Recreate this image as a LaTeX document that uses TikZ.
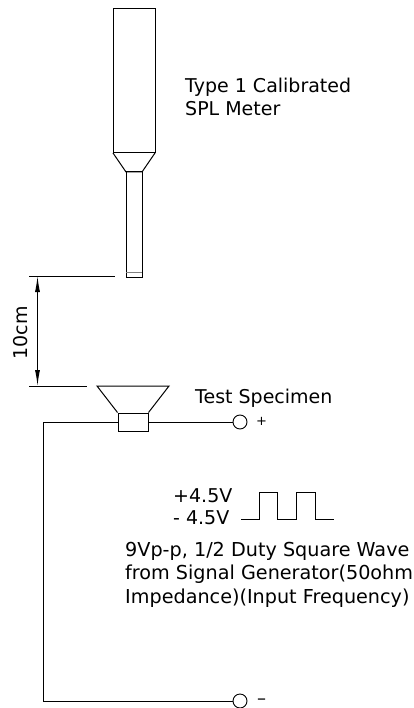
\documentclass[tikz,border=0pt]{standalone}
\usepackage{fontspec}
\setmainfont{DejaVu Sans}
\usetikzlibrary{arrows.meta}
\tikzset{
  wire/.style={line width=1pt},
  terminal/.style={circle,draw,line width=0.9pt,inner sep=0pt,minimum size=14pt,fill=white},
  label/.style={anchor=base west,inner sep=0pt,font=\fontsize{19}{22}\selectfont},
  notelabel/.style={label,font=\fontsize{19.2}{22}\selectfont},
  dimarrow/.style={line width=1pt,{Latex[length=16pt,width=5pt]}-{Latex[length=16pt,width=5pt]}}
}
\begin{document}
\begin{tikzpicture}[x=1pt,y=-1pt]
        \useasboundingbox (0,0) rectangle (414,708);
        %% meter
        \draw[wire] (113,9) rectangle (155,153);
        \draw[wire] (113,153) -- (126,172) -- (142,172) -- (155,153);
        \draw[wire] (126,172) rectangle (142,277);
        \draw[line width=1pt,gray] (126,272) -- (142,272);
        \node[label] (metername) at (185,93) {Type 1 Calibrated};
        \node[label] (metertype) at (185,116) {SPL Meter};
        %% distance
        \coordinate (uppera) at (29,276);
        \coordinate (upperb) at (115,276);
        \coordinate (lowera) at (29,386);
        \coordinate (lowerb) at (87,386);
        \coordinate (arrowa) at (37.5,276);
        \coordinate (arrowb) at (37.5,386);
        \draw[wire] (uppera) -- (upperb);
        \draw[wire] (lowera) -- (lowerb);
        \draw[dimarrow] (arrowa) -- (arrowb);
        \node[rotate=90,label,anchor=center] (distance) at (21,333) {10cm};
        %% specimen
        \node[draw,wire,minimum width=30pt,minimum height=18pt,inner sep=0pt] (coil) at (133,422) {};
        \draw[wire] (coil.north west) -- (97,386) -- (169,386) -- (coil.north east);
        \node[label] (specimen) at (195,403) {Test Specimen};
        %% terminals
        \node[terminal] (plus) at (240,422) {};
        \node[terminal] (minus) at (240,701) {};
        \node[label,anchor=west] (plussign) at (256,421) {\fontsize{13}{16}\selectfont +};
        \node[label,anchor=west] (minussign) at (257,702) {\fontsize{18}{20}\selectfont –};
        \draw[wire] (coil) -- (plus);
        \draw[wire] (coil.west) -- (43,422) -- (43,701) -- (minus);
        %% square wave
        \draw[wire] (241,519) -- (259,519) -- (259,492) -- (277,492) -- (277,519)
          -- (296,519) -- (296,492) -- (315,492) -- (315,519) -- (334,519);
        \node[label] (high) at (173,502) {+4.5V};
        \node[label] (low) at (173,524) {- 4.5V};
        \node[notelabel] (notea) at (125,556) {9Vp-p, 1/2 Duty Square Wave};
        \node[notelabel] (noteb) at (125,579) {from Signal Generator(50ohm};
        \node[notelabel] (notec) at (125,603) {Impedance)(Input Frequency)};
    \end{tikzpicture}
\end{document}
